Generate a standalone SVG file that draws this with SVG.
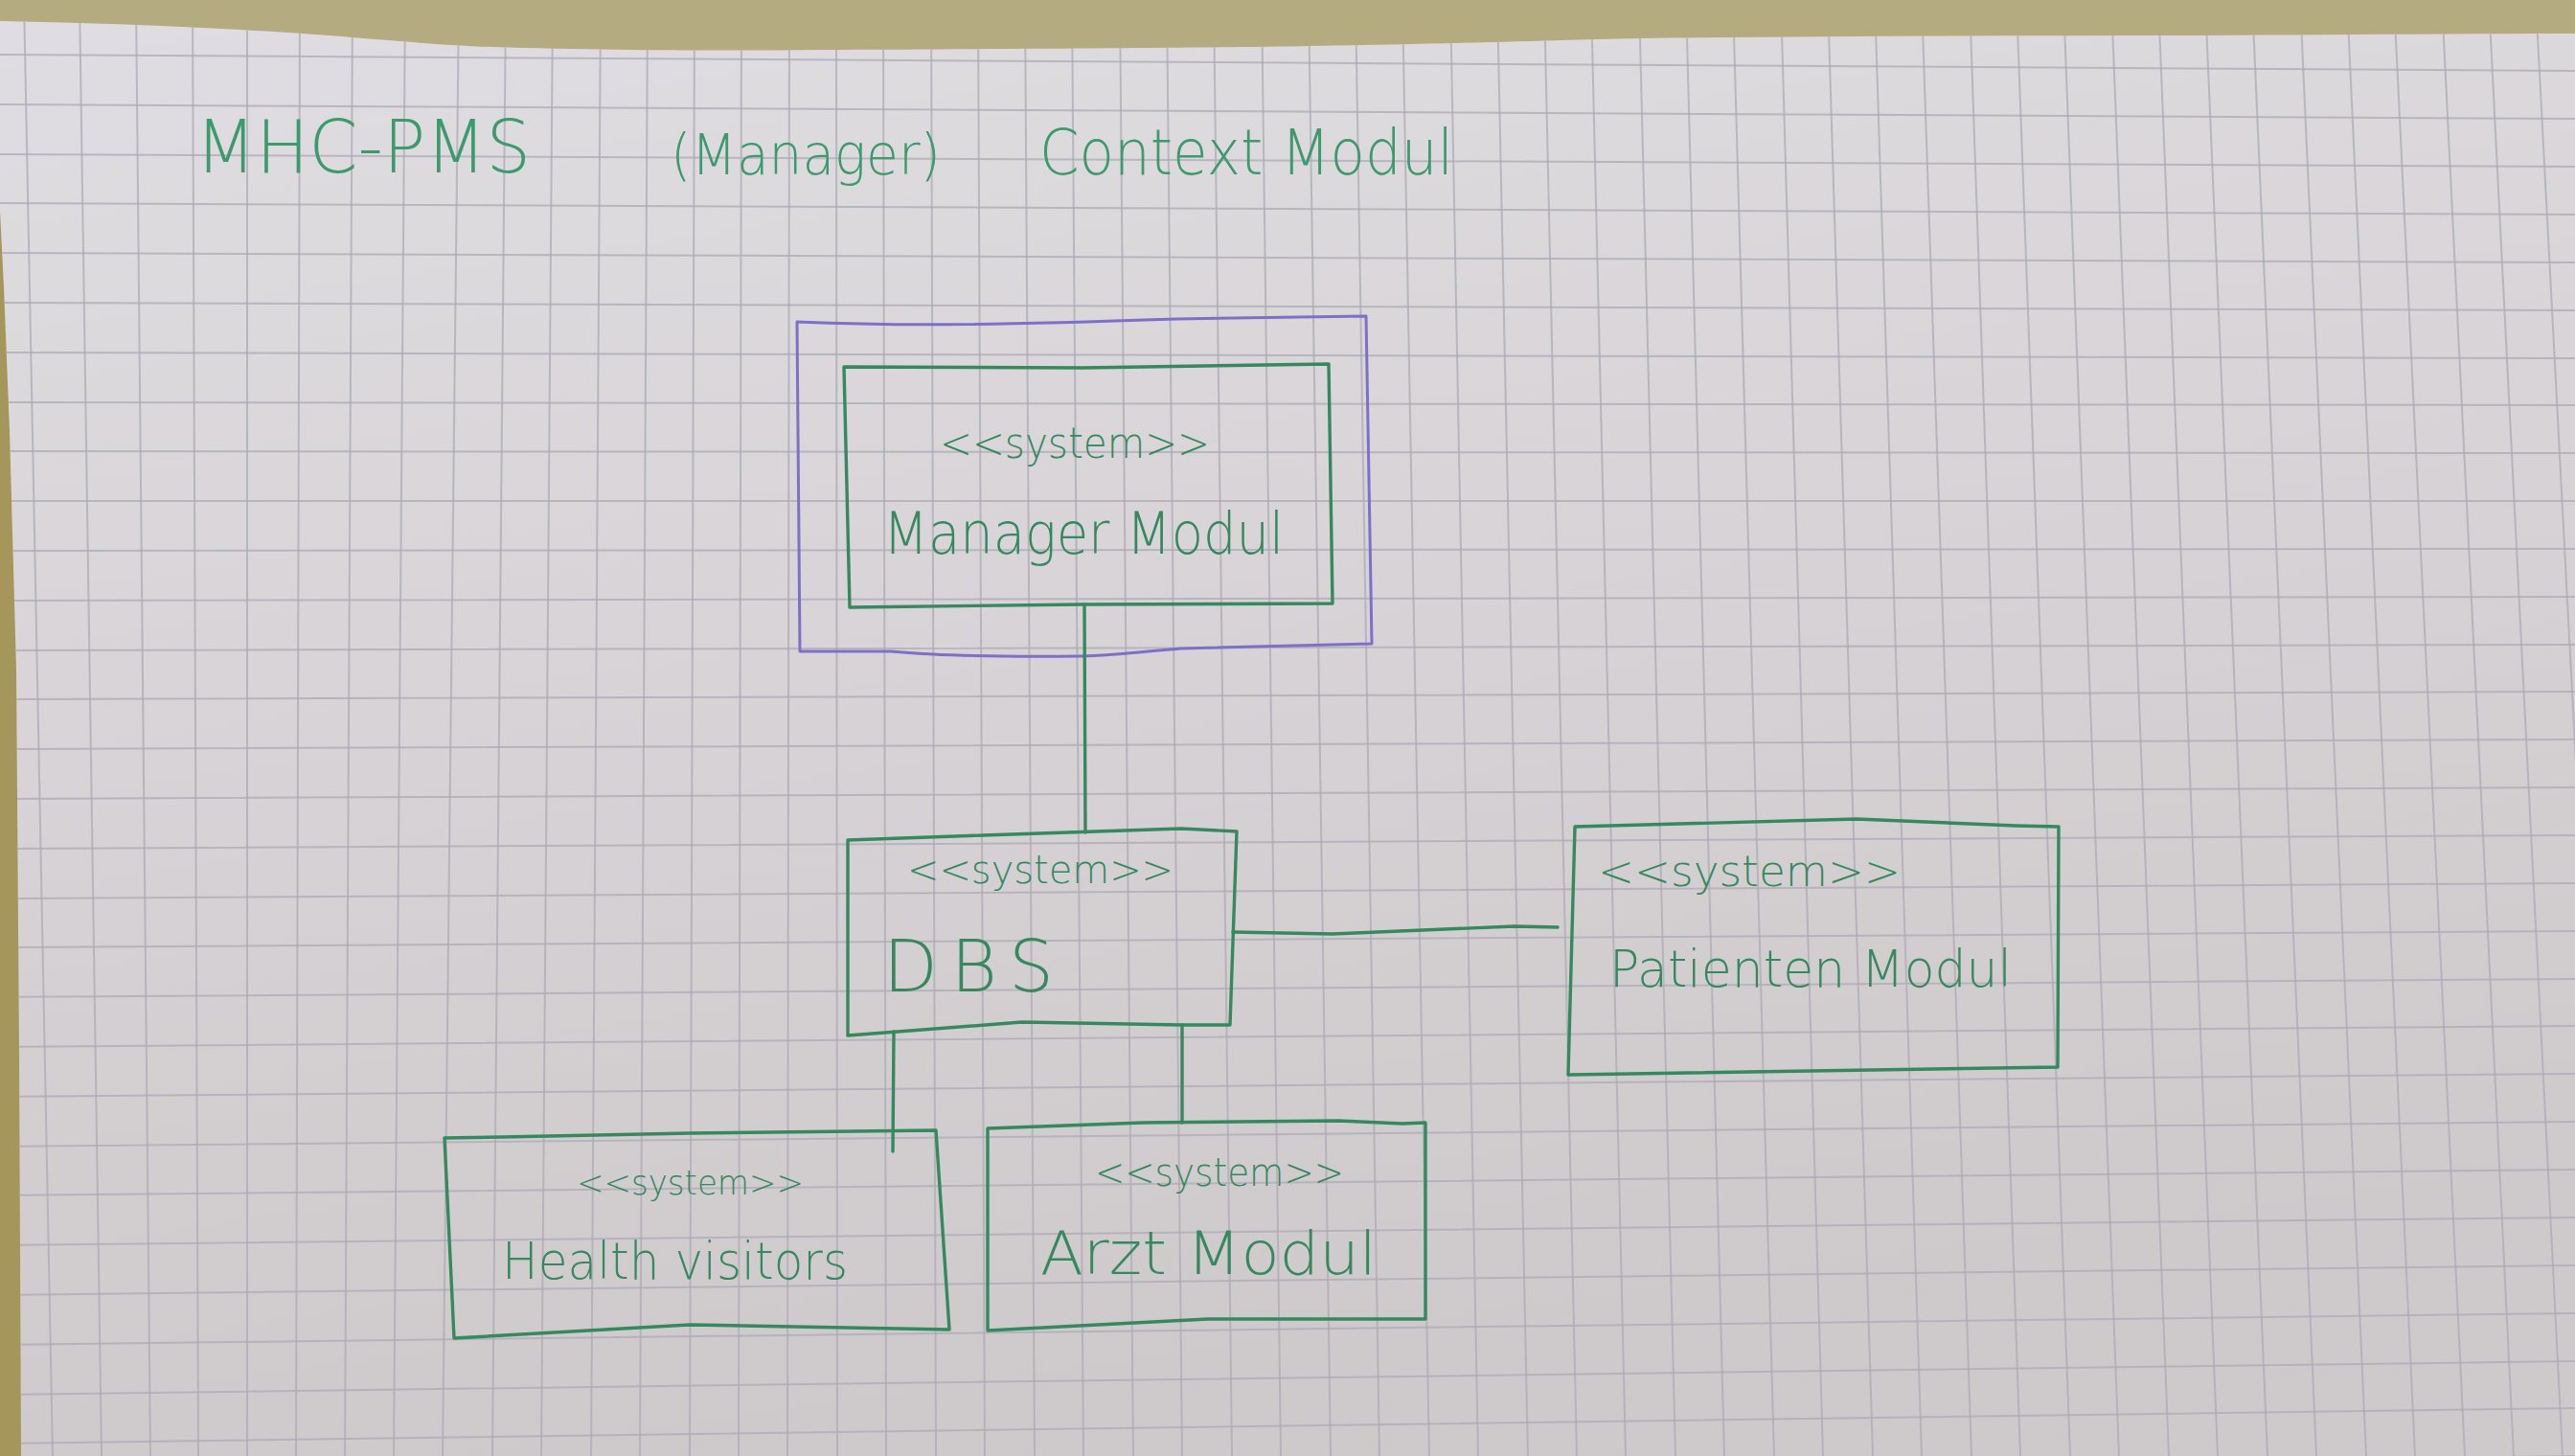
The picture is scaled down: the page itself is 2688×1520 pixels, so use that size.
<svg xmlns="http://www.w3.org/2000/svg" width="2688" height="1520" viewBox="0 0 2688 1520">
<defs>
<linearGradient id="paperGrad" x1="0" y1="0" x2="0.25" y2="1">
<stop offset="0" stop-color="#e0dde2"/>
<stop offset="0.5" stop-color="#d7d3d6"/>
<stop offset="1" stop-color="#cecacb"/>
</linearGradient>
<clipPath id="paperClip">
<path d="M0,22 C120,24 250,30 343,37 C420,43 470,48 514,49 C650,53 760,53 857,52 C1100,51 1250,50 1371,48 C1550,45 1650,41 1714,40 C1900,38 2100,37 2300,37 C2450,36 2600,35 2688,35 L2688,1520 L22,1520 L20,1100 L17,700 L10,450 L4,300 L0,220 Z"/>
</clipPath>
</defs>
<style>
.grid{fill:none;stroke:#aeaab5;stroke-width:2;stroke-opacity:0.75}
.ink{fill:none;stroke:#36895f;stroke-width:3.4;stroke-linejoin:round;stroke-linecap:round}
.frame{fill:none;stroke:#7c70c8;stroke-width:3;stroke-linejoin:round;stroke-linecap:round}
.lbl{font-family:"DejaVu Sans","Liberation Sans",sans-serif;font-weight:200;fill:#36895f}
.title{font-family:"DejaVu Sans","Liberation Sans",sans-serif;font-weight:200;fill:#3c9a6c}
</style>
<rect x="0" y="0" width="2688" height="1520" fill="#b4ab80"/>
<rect x="0" y="200" width="40" height="1320" fill="#a5975b"/>
<path fill="url(#paperGrad)" d="M0,22 C120,24 250,30 343,37 C420,43 470,48 514,49 C650,53 760,53 857,52 C1100,51 1250,50 1371,48 C1550,45 1650,41 1714,40 C1900,38 2100,37 2300,37 C2450,36 2600,35 2688,35 L2688,1520 L22,1520 L20,1100 L17,700 L10,450 L4,300 L0,220 Z"/>
<g id="grid" clip-path="url(#paperClip)">
<path class="grid" d="M25,0L55,1520M83,0L106,1520M142,0L157,1520M201,0L207,1520M258,0L258,1520M313,0L309,1520M368,0L360,1520M423,0L411,1520M479,0L462,1520M528,0L514,1520M577,0L565,1520M627,0L617,1520M676,0L668,1520M725,0L720,1520M774,0L771,1520M824,0L822,1520M873,0L874,1520M922,0L925,1520M972,0L977,1520M1021,0L1028,1520M1070,0L1080,1520M1119,0L1131,1520M1169,0L1183,1520M1218,0L1234,1520M1267,0L1286,1520M1317,0L1337,1520M1366,0L1389,1520M1415,0L1440,1520M1464,0L1492,1520M1514,0L1543,1520M1563,0L1595,1520M1612,0L1646,1520M1661,0L1697,1520M1711,0L1749,1520M1760,0L1800,1520M1809,0L1852,1520M1859,0L1903,1520M1908,0L1955,1520M1957,0L2006,1520M2006,0L2058,1520M2056,0L2109,1520M2105,0L2161,1520M2154,0L2212,1520M2204,0L2264,1520M2253,0L2315,1520M2302,0L2367,1520M2351,0L2418,1520M2401,0L2470,1520M2450,0L2521,1520M2499,0L2573,1520M2549,0L2624,1520M2598,0L2675,1520M2647,0L2727,1520"/>
<path class="grid" d="M0,57L2688,74M0,109L2688,124M0,161L2688,174M0,212L2688,224M0,264L2688,274M0,316L2688,324M0,368L2688,374M0,420L2688,423M0,471L2688,473M0,523L2688,523M0,575L2688,573M0,627L2688,623M0,679L2688,673M0,730L2688,722M0,782L2688,772M0,834L2688,822M0,886L2688,872M0,938L2688,922M0,989L2688,972M0,1041L2688,1022M0,1093L2688,1071M0,1145L2688,1121M0,1197L2688,1171M0,1248L2688,1221M0,1300L2688,1271M0,1352L2688,1321M0,1404L2688,1371M0,1456L2688,1421M0,1507L2688,1470M0,1559L2688,1520"/>
</g>
<g id="title">
<text class="title" x="204" y="180" font-size="76" textLength="350" lengthAdjust="spacingAndGlyphs">MHC-PMS</text>
<text class="title" x="700" y="182" font-size="58" textLength="282" lengthAdjust="spacingAndGlyphs">(Manager)</text>
<text class="title" x="1085" y="182" font-size="66" textLength="432" lengthAdjust="spacingAndGlyphs">Context Modul</text>
</g>
<g id="manager-context">
<path class="frame" d="M832,336 C950,341 1050,339 1228,333 L1426,330 L1432,672 L1233,677 C1180,682 1150,685 1129,685 C1050,686 984,685 930,680 L835,680 Z"/>
</g>
<g id="connectors">
<path class="ink" d="M1132,631 L1133,869"/>
<path class="ink" d="M1287,973 L1391,975 L1581,967 L1626,968"/>
<path class="ink" d="M933,1077 L932,1202"/>
<path class="ink" d="M1234,1070 L1234,1172"/>
</g>
<g id="manager-modul">
<path class="ink" d="M881,383 L1130,384 L1387,380 L1391,630 L1130,631 L887,634 Z"/>
<text class="lbl" x="981" y="478" font-size="44" textLength="282" lengthAdjust="spacingAndGlyphs">&lt;&lt;system&gt;&gt;</text>
<text class="lbl" x="922" y="578" font-size="60" textLength="418" lengthAdjust="spacingAndGlyphs">Manager Modul</text>
</g>
<g id="dbs">
<path class="ink" d="M885,877 L1026,872 L1233,865 L1291,868 L1284,1070 L1233,1070 L1067,1067 L885,1081 Z"/>
<text class="lbl" x="947" y="922" font-size="40" textLength="278" lengthAdjust="spacingAndGlyphs">&lt;&lt;system&gt;&gt;</text>
<text class="lbl" x="922" y="1035" font-size="74" textLength="178" lengthAdjust="spacing">DBS</text>
</g>
<g id="patienten-modul">
<path class="ink" d="M1644,863 L1938,855 L2104,862 L2149,863 L2148,1114 L1637,1122 Z"/>
<text class="lbl" x="1668" y="925" font-size="44" textLength="316" lengthAdjust="spacingAndGlyphs">&lt;&lt;system&gt;&gt;</text>
<text class="lbl" x="1680" y="1030" font-size="54" textLength="420" lengthAdjust="spacingAndGlyphs">Patienten Modul</text>
</g>
<g id="health-visitors">
<path class="ink" d="M464,1188 L524,1187 L720,1183 L977,1180 L991,1388 L720,1383 L474,1397 Z"/>
<text class="lbl" x="602" y="1247" font-size="36" textLength="237" lengthAdjust="spacingAndGlyphs">&lt;&lt;system&gt;&gt;</text>
<text class="lbl" x="524" y="1335" font-size="54" textLength="361" lengthAdjust="spacingAndGlyphs">Health visitors</text>
</g>
<g id="arzt-modul">
<path class="ink" d="M1031,1178 L1194,1172 L1397,1170 L1464,1173 L1488,1172 L1488,1377 L1261,1377 L1031,1389 Z"/>
<text class="lbl" x="1143" y="1238" font-size="40" textLength="260" lengthAdjust="spacingAndGlyphs">&lt;&lt;system&gt;&gt;</text>
<text class="lbl" x="1086" y="1330" font-size="62" textLength="351" lengthAdjust="spacingAndGlyphs">Arzt Modul</text>
</g>
</svg>
